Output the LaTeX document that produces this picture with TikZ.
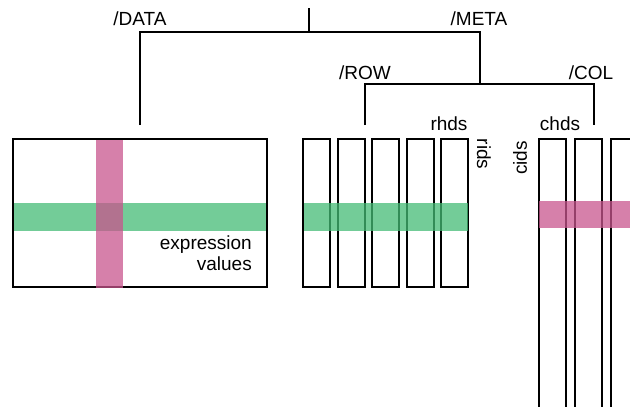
\documentclass[tikz,border=0pt]{standalone}
\usepackage{fontspec}
\setmainfont{Liberation Sans}
\definecolor{gband}{RGB}{68,187,117}
\definecolor{pband}{RGB}{200,85,141}
\begin{document}
\begin{tikzpicture}[x=1pt,y=-1pt,
  tree/.style={line width=2.4pt},
  box/.style={draw, line width=2pt},
  lbl/.style={font=\fontsize{19}{21}\selectfont, inner sep=0pt},
  greenband/.style={fill=gband, fill opacity=0.75},
  pinkband/.style={fill=pband, fill opacity=0.75}]
\useasboundingbox (0,0) rectangle (630,407);
\clip (0,0) rectangle (630,407);
% tree
\coordinate (root) at (309,8);
\coordinate (j1) at (309,32);
\coordinate (dataL) at (140,32);
\coordinate (dataEnd) at (140,125);
\coordinate (metaR) at (480,32);
\coordinate (metaJ) at (480,84);
\coordinate (rowL) at (365,84);
\coordinate (rowEnd) at (365,125);
\coordinate (colR) at (594,84);
\coordinate (colEnd) at (594,125);
\draw[tree] (root) -- (j1);
\draw[tree] (dataEnd) -- (dataL) -- (metaR) -- (metaJ);
\draw[tree] (rowEnd) -- (rowL) -- (colR) -- (colEnd);
% labels
\node[lbl, anchor=base] (ldata) at (140,25) {/DATA};
\node[lbl, anchor=base] (lmeta) at (479,25) {/META};
\node[lbl, anchor=base] (lrow) at (365,79) {/ROW};
\node[lbl, anchor=base] (lcol) at (591,79) {/COL};
\node[lbl, anchor=base] (lrhds) at (449,130) {rhds};
\node[lbl, anchor=base] (lchds) at (560,130) {chds};
\node[lbl, rotate=-90] (lrids) at (484,154) {rids};
\node[lbl, rotate=90] (lcids) at (520,158) {cids};
% data box
\draw[box] (12.5,138.5) rectangle (266.5,287);
\fill[greenband] (13.5,203) rectangle (265.5,231);
\fill[pinkband] (96,139.5) rectangle (123,288);
\node[lbl, anchor=base east] (lexpr) at (252,249) {expression};
\node[lbl, anchor=base east] (lvals) at (252,270) {values};
% row boxes
\foreach \x in {303,337.5,372,406.5,441} {
  \draw[box] (\x,138.5) rectangle ++(27,148.5);
}
\fill[greenband] (303.5,203) rectangle (468,231);
% col boxes
\foreach \x in {538.5,574.5,610.5} {
  \draw[box] (\x,138.5) rectangle ++(27,300);
}
\fill[pinkband] (539,201) rectangle (635,228);
\end{tikzpicture}
\end{document}
